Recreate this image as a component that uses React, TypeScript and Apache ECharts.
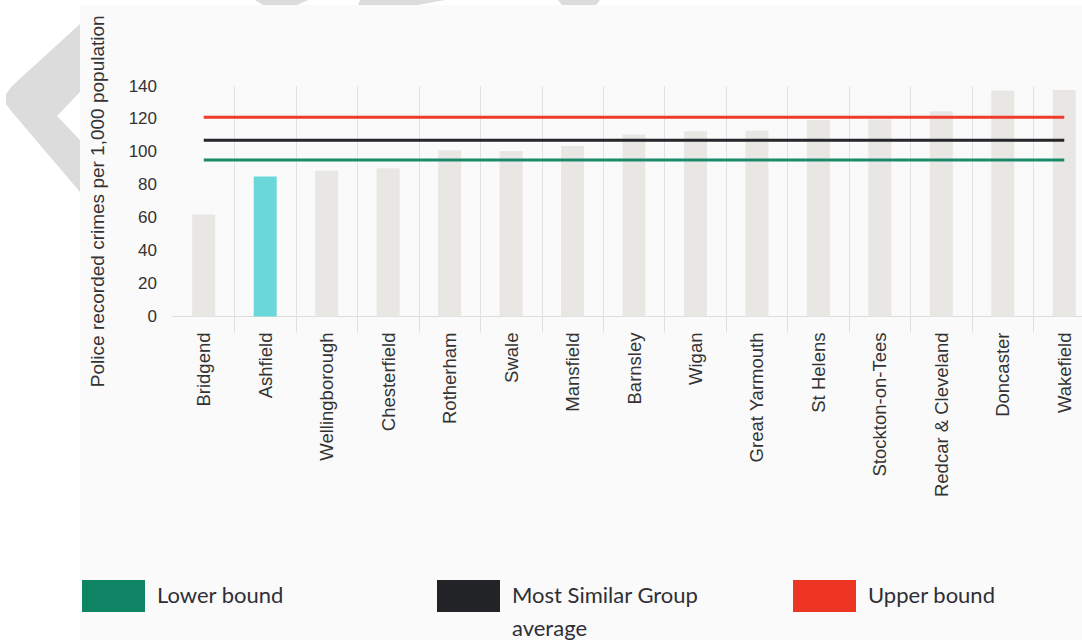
import React, { useEffect, useRef } from "react";
import * as echarts from "echarts";

const categories = [
  "Bridgend", "Ashfield", "Wellingborough", "Chesterfield", "Rotherham", "Swale",
  "Mansfield", "Barnsley", "Wigan", "Great Yarmouth", "St Helens", "Stockton-on-Tees",
  "Redcar & Cleveland", "Doncaster", "Wakefield",
];
const crimeRates = [62, 85, 88.5, 90, 101, 100.5, 103.5, 110.5, 112.5, 113, 119.3, 119.7, 124.6, 137.2, 137.6];
const highlighted = "Ashfield";
const lowerBound = 95;
const msgAverage = 107;
const upperBound = 121;
const yTicks = { min: 0, max: 140, interval: 20 };
const legendLabels = ["Lower bound", "Most Similar Group\naverage", "Upper bound"];
const legendColors = ["#0f8464", "#222327", "#ee3524"];
const lineColors = ["#1b8a6b", "#26262b", "#f03a2b"];

const FONT = "'Liberation Sans', Arial, sans-serif";

export default function App() {
  const ref = useRef<HTMLDivElement>(null);
  useEffect(() => {
    if (!ref.current) return;
    const chart = echarts.init(ref.current, undefined, { renderer: "svg" });
    const skipFirst = (i: number) => i !== 0;
    const legendX = [82, 437, 793];
    const graphic: any[] = [
      { type: "rect", z: -10, shape: { x: 80, y: 5, width: 1030, height: 635 }, style: { fill: "#fafafa" } },
      {
        type: "polygon", z: -9,
        shape: { points: [[80, 24], [12, 86], [6, 94], [6, 104], [12, 112], [80, 192], [80, 140], [57, 116], [80, 92]] },
        style: { fill: "#dcdcdc" },
      },
      { type: "polygon", z: -9, shape: { points: [[255, 0], [308, 0], [297, 5], [263, 5]] }, style: { fill: "#dcdcdc" } },
      { type: "polygon", z: -9, shape: { points: [[360, 0], [445, 0], [418, 5], [358, 5]] }, style: { fill: "#dcdcdc" } },
      { type: "polygon", z: -9, shape: { points: [[558, 0], [600, 0], [596, 5], [562, 5]] }, style: { fill: "#dcdcdc" } },
    ];
    legendLabels.forEach((label, i) => {
      graphic.push({
        type: "rect", shape: { x: legendX[i], y: 580, width: 63, height: 32 },
        style: { fill: legendColors[i] },
      });
      graphic.push({
        type: "text", x: legendX[i] + 75, y: 578,
        style: {
          text: label, fontFamily: "Lato", fontSize: 22, lineHeight: 33,
          verticalAlign: "top", fill: "#2f2f36",
        },
      });
    });

    chart.setOption({
      animation: false,
      graphic,
      grid: { left: 173, top: 86, right: 0, height: 230.5, containLabel: false },
      xAxis: {
        type: "category",
        data: categories,
        boundaryGap: true,
        axisLine: { show: true, lineStyle: { color: "#dcdcdc", width: 1 } },
        axisTick: { show: true, length: 16, interval: skipFirst, lineStyle: { color: "#e0e0e0" } },
        splitLine: { show: true, interval: skipFirst, lineStyle: { color: "#e2e2e2", width: 1 } },
        axisLabel: { rotate: 90, margin: 16, fontSize: 18.5, color: "#333", fontFamily: FONT, interval: 0 },
      },
      yAxis: {
        type: "value",
        min: yTicks.min, max: yTicks.max, interval: yTicks.interval,
        axisLine: { show: false }, axisTick: { show: false }, splitLine: { show: false },
        axisLabel: { fontSize: 17, margin: 16, color: "#333", fontFamily: FONT },
        name: "Police recorded crimes per 1,000 population",
        nameLocation: "middle",
        nameGap: 66,
        nameTextStyle: { fontSize: 19, color: "#333", fontFamily: FONT },
      },
      series: [
        {
          type: "bar",
          barWidth: 23,
          data: crimeRates.map((v, i) => ({
            value: v,
            itemStyle: { color: categories[i] === highlighted ? "#6ad8d8" : "#e8e7e3" },
          })),
          z: 2,
        },
        ...[lowerBound, msgAverage, upperBound].map((v, i) => ({
          type: "line",
          name: legendLabels[i],
          data: categories.map(() => v),
          showSymbol: false,
          symbol: "none",
          lineStyle: { color: lineColors[i], width: 3 },
          z: 3,
        })),
      ],
    });
    return () => chart.dispose();
  }, []);
  return (
    <div style={{ position: "absolute", left: 0, top: 0, width: 1082, height: 640, overflow: "hidden" }}>
      <div ref={ref} style={{ width: 1095, height: 640 }} />
    </div>
  );
}
